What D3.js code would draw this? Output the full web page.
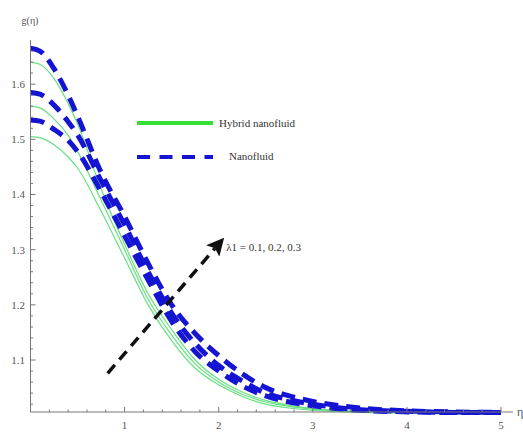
<!DOCTYPE html>
<html>
<head>
<meta charset="utf-8">
<script src="https://cdn.jsdelivr.net/npm/d3@7"></script>
<style>
  body { margin: 0; background: #fff; }
</style>
</head>
<body>
<svg id="chart" width="523" height="435"></svg>
<script>
// eta grid and profiles
var eta = [0, 0.1, 0.25, 0.4, 0.5, 0.75, 1, 1.25, 1.5, 1.75, 2, 2.25, 2.5, 2.75, 3, 3.5, 4, 4.5, 5];

// Nanofluid (blue dashed), lambda1 = 0.3, 0.2, 0.1
var nanoA = [1.665, 1.66, 1.628, 1.58, 1.542, 1.44, 1.36, 1.275, 1.20, 1.148, 1.108, 1.075, 1.05, 1.035, 1.025, 1.013, 1.008, 1.006, 1.005];
var nanoB = [1.585, 1.582, 1.562, 1.532, 1.508, 1.425, 1.345, 1.26, 1.185, 1.13, 1.09, 1.062, 1.04, 1.028, 1.02, 1.01, 1.007, 1.005, 1.005];
var nanoC = [1.535, 1.533, 1.518, 1.498, 1.478, 1.405, 1.325, 1.245, 1.17, 1.115, 1.08, 1.053, 1.035, 1.024, 1.017, 1.009, 1.006, 1.005, 1.005];

// Hybrid nanofluid (green thin)
var hybA = [1.64, 1.636, 1.61, 1.565, 1.528, 1.41, 1.31, 1.22, 1.155, 1.10, 1.065, 1.042, 1.027, 1.018, 1.012, 1.007, 1.005, 1.004, 1.004];
var hybB = [1.56, 1.557, 1.537, 1.507, 1.478, 1.39, 1.30, 1.21, 1.145, 1.093, 1.06, 1.038, 1.024, 1.016, 1.011, 1.006, 1.005, 1.004, 1.004];
var hybC = [1.505, 1.503, 1.49, 1.468, 1.448, 1.37, 1.285, 1.20, 1.135, 1.085, 1.055, 1.034, 1.02, 1.013, 1.009, 1.005, 1.004, 1.004, 1.004];

var xTicks = [1, 2, 3, 4, 5];
var yTicks = [1.1, 1.2, 1.3, 1.4, 1.5, 1.6];
var legendLabels = ["Hybrid nanofluid", "Nanofluid"];

// arrow annotation (data units)
var arrowFrom = [0.82, 1.076];
var arrowTo = [2.035, 1.317];
var arrowLabel = "\u03bb1 = 0.1, 0.2, 0.3";

var svg = d3.select("svg#chart");
var serif = "Liberation Serif, Tinos, Times New Roman, Times, DejaVu Serif, Noto Serif, serif";

var x = d3.scaleLinear().domain([0, 5]).range([30.5, 501]);
var y = d3.scaleLinear().domain([1.0058, 1.68]).range([412, 40]);

var line = d3.line()
  .x((d, i) => x(eta[i]))
  .y(d => y(d))
  .curve(d3.curveMonotoneX);

var blue = "#1414d2";
var green = "#66e080";

//green curves
svg.append("g").attr("class", "hybrid")
  .selectAll("path")
  .data([hybA, hybB, hybC])
  .enter().append("path")
  .attr("d", line)
  .attr("fill", "none")
  .attr("stroke", green)
  .attr("stroke-width", 1.2);

//blue dashed curves
svg.append("g").attr("class", "nano")
  .selectAll("path")
  .data([nanoA, nanoB, nanoC])
  .enter().append("path")
  .attr("d", line)
  .attr("fill", "none")
  .attr("stroke", blue)
  .attr("stroke-width", 5)
  .attr("stroke-dasharray", "14,8");

//axes
var axisColor = "#777";
var gx = svg.append("g").attr("class", "xaxis");
gx.append("line")
  .attr("x1", x(0)).attr("x2", 513)
  .attr("y1", 412).attr("y2", 412)
  .attr("stroke", axisColor).attr("stroke-width", 1);
gx.selectAll("line.minor")
  .data(d3.range(1, 26).map(i => i * 0.2))
  .enter().append("line")
  .attr("class", "minor")
  .attr("x1", d => x(d)).attr("x2", d => x(d))
  .attr("y1", 412).attr("y2", d => Math.abs(d - Math.round(d)) < 1e-6 ? 407 : 409.5)
  .attr("stroke", axisColor);
gx.selectAll("text")
  .data(xTicks)
  .enter().append("text")
  .attr("x", d => x(d))
  .attr("y", 429)
  .attr("text-anchor", "middle")
  .style("font-family", serif)
  .attr("font-size", "11px")
  .attr("fill", "#555")
  .text(d => d);
gx.append("text")
  .attr("x", 517).attr("y", 416)
  .style("font-family", serif)
  .attr("font-size", "12px")
  .attr("fill", "#555")
  .text("\u03b7");

var gy = svg.append("g").attr("class", "yaxis");
gy.append("line")
  .attr("x1", x(0)).attr("x2", x(0))
  .attr("y1", 412).attr("y2", 40)
  .attr("stroke", axisColor).attr("stroke-width", 1);
gy.selectAll("line.minor")
  .data(d3.range(1, 34).map(i => 1 + i * 0.02))
  .enter().append("line")
  .attr("class", "minor")
  .attr("x1", x(0))
  .attr("x2", d => Math.abs(d * 10 - Math.round(d * 10)) < 1e-6 ? x(0) + 5 : x(0) + 2.5)
  .attr("y1", d => y(d)).attr("y2", d => y(d))
  .attr("stroke", axisColor);
gy.selectAll("text")
  .data(yTicks)
  .enter().append("text")
  .attr("x", 25)
  .attr("y", d => y(d) + 4)
  .attr("text-anchor", "end")
  .style("font-family", serif)
  .attr("font-size", "11px")
  .attr("fill", "#555")
  .text(d => d.toFixed(1));
gy.append("text")
  .attr("x", 30).attr("y", 24)
  .attr("text-anchor", "middle")
  .style("font-family", serif)
  .attr("font-size", "10px")
  .attr("fill", "#555")
  .text("g(\u03b7)");

//legend
var lg = svg.append("g").attr("class", "legend");
lg.append("line")
  .attr("x1", 137).attr("x2", 213).attr("y1", 123).attr("y2", 123)
  .attr("stroke", "#33e033").attr("stroke-width", 4);
lg.append("line")
  .attr("x1", 137).attr("x2", 213).attr("y1", 157).attr("y2", 157)
  .attr("stroke", blue).attr("stroke-width", 4)
  .attr("stroke-dasharray", "13,9.5");
lg.selectAll("text")
  .data(legendLabels)
  .enter().append("text")
  .attr("x", (d, i) => i === 0 ? 219 : 229)
  .attr("y", (d, i) => i === 0 ? 127 : 160)
  .style("font-family", serif)
  .attr("font-size", "11px")
  .attr("fill", "#333")
  .text(d => d);

//arrow
svg.append("defs").append("marker")
  .attr("id", "head")
  .attr("viewBox", "0 0 10 10")
  .attr("refX", 2).attr("refY", 5)
  .attr("markerWidth", 5).attr("markerHeight", 5)
  .attr("orient", "auto")
  .attr("markerUnits", "strokeWidth")
  .append("path")
  .attr("d", "M0,0 L10,5 L0,10 L2,5 Z")
  .attr("fill", "#111");

svg.append("line")
  .attr("x1", x(arrowFrom[0])).attr("y1", y(arrowFrom[1]))
  .attr("x2", x(arrowTo[0]) - 7).attr("y2", y(arrowTo[1]) + 8)
  .attr("stroke", "#111").attr("stroke-width", 3.5)
  .attr("stroke-dasharray", "11,7")
  .attr("marker-end", "url(#head)");

svg.append("text")
  .attr("x", x(2.08)).attr("y", y(1.297))
  .style("font-family", serif)
  .attr("font-size", "11px")
  .attr("fill", "#333")
  .text(arrowLabel);
</script>
</body>
</html>
